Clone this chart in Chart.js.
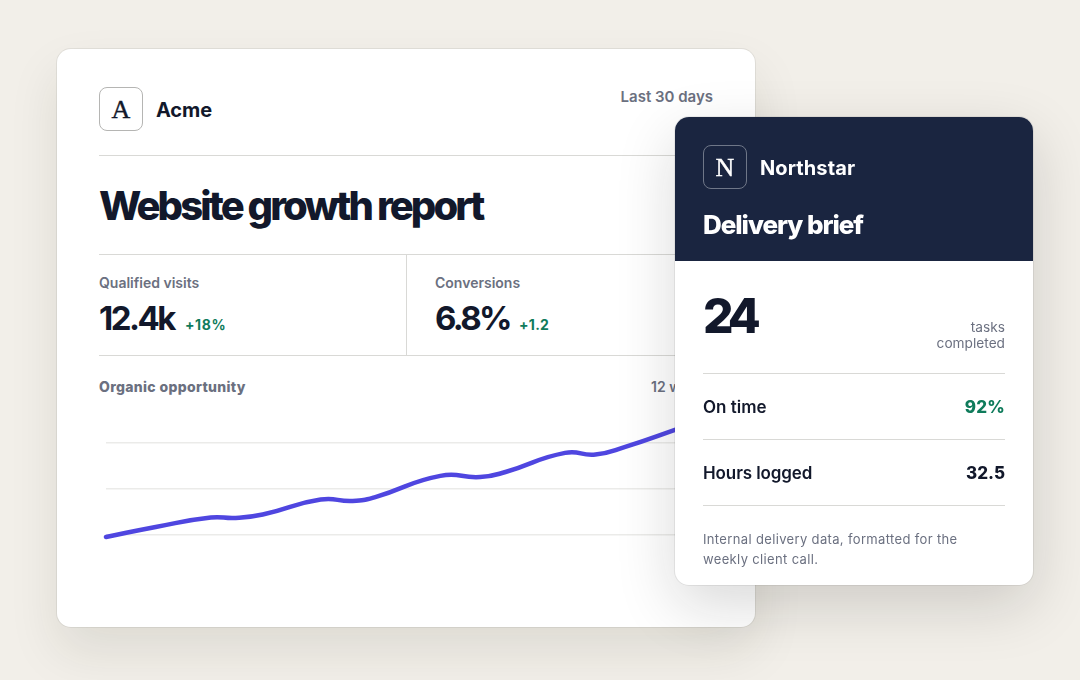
<!DOCTYPE html>
<html><head><meta charset="utf-8">
<script src="https://cdn.jsdelivr.net/npm/chart.js@4"></script>
<style>
html,body{margin:0;padding:0;width:1080px;height:680px;overflow:hidden;background:#f2efe9;font-family:Inter,sans-serif;}
.a{position:absolute;white-space:nowrap;line-height:1;}
.card{position:absolute;background:#fff;border-radius:14px;box-sizing:border-box;}
#c1{left:57px;top:49px;width:698px;height:578px;box-shadow:0 24px 50px rgba(40,35,20,.10),0 0 0 1px rgba(30,30,30,.07);}
#c2{left:675px;top:117px;width:358px;height:468px;box-shadow:0 20px 60px rgba(20,20,20,.16),0 0 0 1px rgba(30,30,30,.07);overflow:hidden;}
.r{position:absolute;height:1px;background:#d9d9d6;}
.logo{position:absolute;width:44px;height:44px;box-sizing:border-box;border-radius:8px;text-align:center;font-family:"Liberation Serif",serif;font-size:26px;line-height:44px;font-weight:400;-webkit-text-stroke:.4px currentColor;}
.m{color:#6b7080;}.k{color:#12182b;}.g{color:#0f7b5b;}
#wrap{position:absolute;left:100px;top:397px;width:613px;height:184px;}
</style></head><body>
<div class="card" id="c1"></div>
<div class="logo k" style="left:99px;top:87px;border:1px solid #b5b5b3">A</div>
<div class="a k" style="left:156px;top:100px;font-size:20px;font-weight:700;letter-spacing:-.1px">Acme</div>
<div class="a m" style="right:367px;top:89px;font-size:15px;font-weight:600">Last 30 days</div>
<div class="r" style="left:99px;top:155px;width:614px"></div>
<div class="a k" style="left:99px;top:186px;font-size:40px;font-weight:800;letter-spacing:-2.9px">Website growth report</div>
<div class="r" style="left:99px;top:254px;width:614px"></div>
<div class="r" style="left:406px;top:255px;width:1px;height:100px"></div>
<div class="a m" style="left:99px;top:276px;font-size:14px;font-weight:600">Qualified visits</div>
<div class="a k" style="left:99px;top:302px;font-size:33px;font-weight:700;letter-spacing:-2.5px">12.4k</div>
<div class="a g" style="left:185px;top:318px;font-size:14px;font-weight:700;letter-spacing:.6px">+18%</div>
<div class="a m" style="left:435px;top:276px;font-size:14px;font-weight:600">Conversions</div>
<div class="a k" style="left:435px;top:302px;font-size:33px;font-weight:700;letter-spacing:-2.7px">6.8%</div>
<div class="a g" style="left:519px;top:318px;font-size:14px;font-weight:700;letter-spacing:.3px">+1.2</div>
<div class="r" style="left:99px;top:355px;width:614px"></div>
<div class="a m" style="left:99px;top:380px;font-size:14px;font-weight:800;letter-spacing:.33px">Organic opportunity</div>
<div class="a m" style="right:367px;top:380px;font-size:14px;font-weight:600">12 weeks</div>
<div id="wrap"><canvas id="chart" width="613" height="184"></canvas></div>

<div class="card" id="c2">
  <div style="position:absolute;left:0;top:0;width:358px;height:144px;background:#1a2540"></div>
</div>
<div class="logo" style="left:703px;top:145px;border:1px solid #6f7788;color:#fff">N</div>
<div class="a" style="left:760px;top:158px;font-size:20px;font-weight:700;color:#fff;letter-spacing:.1px">Northstar</div>
<div class="a" style="left:703px;top:212px;font-size:26px;font-weight:800;color:#fff;letter-spacing:-1.05px">Delivery brief</div>
<div class="a k" style="left:703px;top:292px;font-size:48px;font-weight:800;letter-spacing:-5px">24</div>
<div class="a m" style="right:75px;top:321px;font-size:13.7px;font-weight:400">tasks</div>
<div class="a m" style="right:75px;top:337px;font-size:13.7px;font-weight:400">completed</div>
<div class="r" style="left:703px;top:373px;width:302px"></div>
<div class="a k" style="left:703px;top:399px;font-size:17px;font-weight:600">On time</div>
<div class="a g" style="right:75px;top:399px;font-size:17px;font-weight:800;letter-spacing:.2px">92%</div>
<div class="r" style="left:703px;top:439px;width:302px"></div>
<div class="a k" style="left:703px;top:465px;font-size:17px;font-weight:600;letter-spacing:-.1px">Hours logged</div>
<div class="a k" style="right:75px;top:465px;font-size:17px;font-weight:800">32.5</div>
<div class="r" style="left:703px;top:505px;width:302px"></div>
<div class="a m" style="left:703px;top:533px;font-size:13px;letter-spacing:.35px">Internal delivery data, formatted for the</div>
<div class="a m" style="left:703px;top:553px;font-size:13px;letter-spacing:.35px">weekly client call.</div>
<script>
const weeks=[0,0.9,1.9,2.35,2.84,3.89,4.47,4.88,6.06,6.78,7.24,8.32,8.87,9.41,10.31,11];
const organicValues=[19.1,23.5,27.6,27.4,28.9,35.4,34.8,36.5,45.7,45.2,47.4,55.7,55,58.3,65.7,71.7];
const gridTicks=[20,40,60];
new Chart(document.getElementById('chart'),{
  type:'line',
  data:{datasets:[{data:weeks.map((w,i)=>({x:w,y:organicValues[i]})),borderColor:'#4f46e0',borderWidth:4.5,pointRadius:0,tension:0.5,borderCapStyle:'round',clip:false}]},
  options:{responsive:false,animation:false,devicePixelRatio:1,
    layout:{padding:{left:6,right:0,top:0,bottom:0}},
    plugins:{legend:{display:false},tooltip:{enabled:false}},
    scales:{
      x:{type:'linear',min:0,max:11,display:false},
      y:{min:0,max:80,afterBuildTicks:s=>{s.ticks=gridTicks.map(v=>({value:v}));},
         border:{display:false},ticks:{display:false},
         grid:{color:'#ebebe9',lineWidth:1.5,drawTicks:false}}
    }
  }
});
</script>
</body></html>
